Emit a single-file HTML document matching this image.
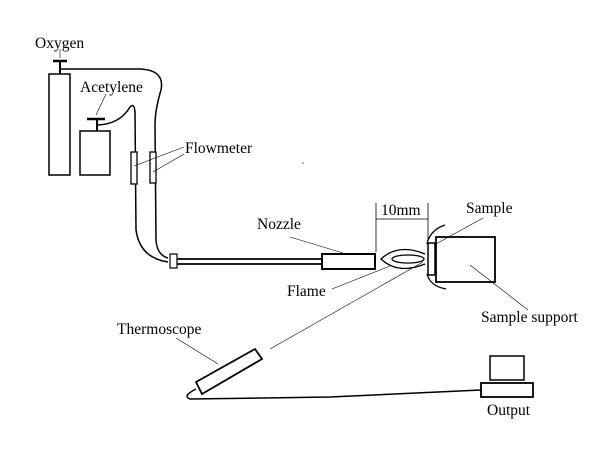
<!DOCTYPE html>
<html><head><meta charset="utf-8"><style>
html,body{margin:0;padding:0;background:#fff;}
svg{display:block;}
text{font-family:"Liberation Serif",serif;font-size:15.5px;fill:#000;}
</style></head><body>
<svg width="601" height="463" viewBox="0 0 601 463" xmlns="http://www.w3.org/2000/svg">
<g fill="none" stroke="#000">
<rect x="49" y="74" width="21" height="101" stroke-width="1.5"/>
<line x1="53" y1="61" x2="67" y2="61" stroke-width="2.5"/>
<line x1="60" y1="61" x2="60" y2="74" stroke-width="2"/>
<rect x="80" y="131" width="30" height="44" stroke-width="1.5"/>
<line x1="87" y1="119" x2="105" y2="119" stroke-width="2.5"/>
<line x1="97" y1="119" x2="97" y2="131" stroke-width="2"/>
<path d="M60 69 L140 69 Q165 70 161 90 Q155 110 155 125 L156 240 Q157 255 168 258" stroke-width="1.5"/>
<path d="M98 125 Q118 124 128 110 Q134 100 135 112 L136 230 Q140 258 168 262" stroke-width="1.5"/>
<rect x="131" y="152" width="6" height="32" fill="#fff" stroke-width="1.3"/>
<rect x="150" y="152" width="6" height="31" fill="#fff" stroke-width="1.3"/>
<rect x="170" y="254" width="7" height="14" fill="#fff" stroke-width="1.2"/>
<line x1="177" y1="259" x2="322" y2="259" stroke-width="1.8"/>
<line x1="177" y1="264" x2="322" y2="264" stroke-width="1.8"/>
<rect x="322" y="254" width="53" height="15" stroke-width="2"/>
<line x1="376" y1="203" x2="376" y2="252" stroke-width="0.8"/>
<line x1="428" y1="203" x2="428" y2="240" stroke-width="0.8"/>
<line x1="376" y1="219" x2="428" y2="219" stroke-width="0.8"/>
<path d="M425 254 Q398 243 381 259 Q398 275 425 264" stroke-width="1.3"/>
<ellipse cx="408" cy="259" rx="16" ry="4" stroke-width="1.3"/>
<rect x="428" y="243" width="7" height="32" stroke-width="1.5"/>
<rect x="436" y="237" width="59" height="45" stroke-width="1.8"/>
<path d="M427 244 Q430 230 445 225" stroke-width="1.3"/>
<path d="M427 274 Q430 286 446 289" stroke-width="1.3"/>
<polygon points="196,382 255,349 262,359 202,394" stroke-width="1.8"/>
<path d="M196 389 Q182 396 190 399 L330 397 L481 390" stroke-width="1.5"/>
<rect x="490" y="356" width="34" height="24" stroke-width="1.5"/>
<rect x="481" y="383" width="52" height="14" stroke-width="1.8"/>
<g stroke-width="0.6">
<line x1="60" y1="49" x2="60" y2="58"/>
<line x1="106" y1="94" x2="96" y2="115"/>
<line x1="184" y1="147" x2="134" y2="166"/>
<line x1="184" y1="154" x2="153" y2="172"/>
<line x1="290" y1="237" x2="343" y2="253"/>
<line x1="332" y1="289" x2="390" y2="266"/>
<line x1="270" y1="349" x2="423" y2="262"/>
<line x1="176" y1="338" x2="218" y2="364"/>
<line x1="483" y1="218" x2="434" y2="245"/>
<line x1="470" y1="265" x2="528" y2="310"/>
<line x1="303" y1="162" x2="303" y2="164"/>
</g>
</g>
<text x="35" y="48">Oxygen</text>
<text x="80" y="92">Acetylene</text>
<text x="185" y="153">Flowmeter</text>
<text x="257" y="229">Nozzle</text>
<text x="381" y="215">10mm</text>
<text x="466" y="213">Sample</text>
<text x="287" y="296">Flame</text>
<text x="481" y="322">Sample support</text>
<text x="117" y="334">Thermoscope</text>
<text x="487" y="415">Output</text>
</svg>
</body></html>
